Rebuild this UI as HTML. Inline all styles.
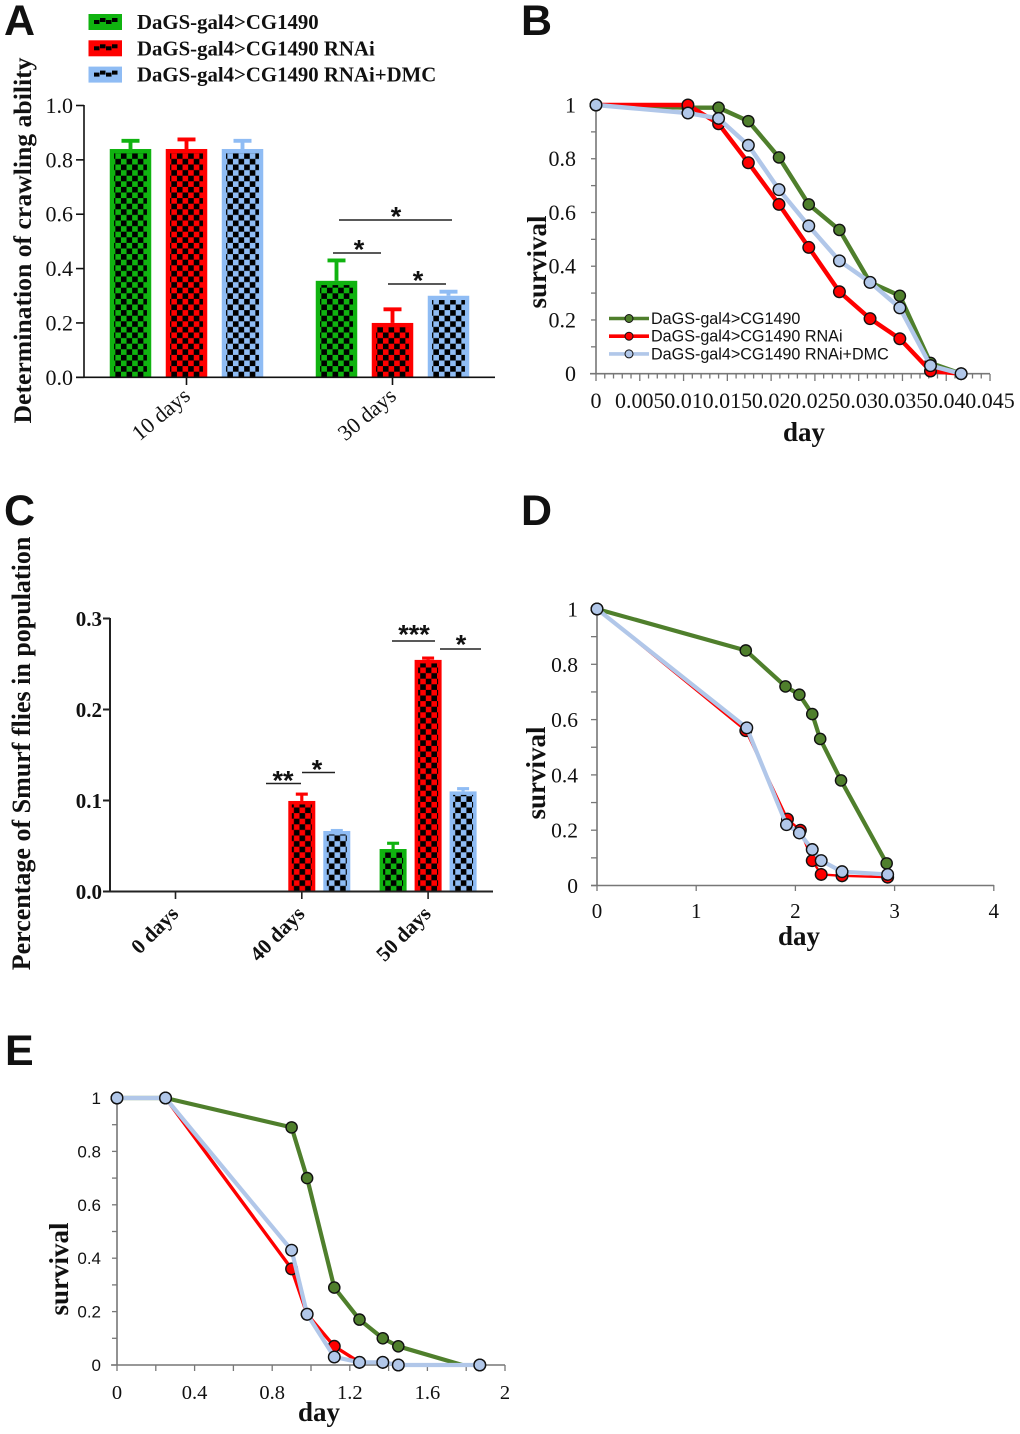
<!DOCTYPE html>
<html>
<head>
<meta charset="utf-8">
<title>Crawling ability, Smurf and survival charts</title>
<style>
html,body{margin:0;padding:0;background:#fff;width:1020px;height:1434px;overflow:hidden}
svg{display:block}
text{font-family:"Liberation Serif",serif;fill:#111}
.sans{font-family:"Liberation Sans",sans-serif}
</style>
</head>
<body>
<svg id="figure" xmlns="http://www.w3.org/2000/svg" width="1020" height="1434" viewBox="0 0 1020 1434">
<defs>
<pattern id="chk-green" width="11.2" height="11.2" patternUnits="userSpaceOnUse"><rect width="11.2" height="11.2" fill="#10b310"/><rect width="5.6" height="5.6" fill="#000"/><rect x="5.6" y="5.6" width="5.6" height="5.6" fill="#000"/></pattern>
<pattern id="chk-red" width="11.2" height="11.2" patternUnits="userSpaceOnUse"><rect width="11.2" height="11.2" fill="#fe0000"/><rect width="5.6" height="5.6" fill="#000"/><rect x="5.6" y="5.6" width="5.6" height="5.6" fill="#000"/></pattern>
<pattern id="chk-blue" width="11.2" height="11.2" patternUnits="userSpaceOnUse"><rect width="11.2" height="11.2" fill="#8fbcf4"/><rect width="5.6" height="5.6" fill="#000"/><rect x="5.6" y="5.6" width="5.6" height="5.6" fill="#000"/></pattern>
</defs>
</svg>
<script>
// ---------- Panel A data ----------
const aCategories = ['10 days', '30 days'];
const aControl = [0.84, 0.355];
const aRnai = [0.84, 0.2];
const aDmc = [0.84, 0.3];
const aControlErr = [0.87, 0.43];
const aRnaiErr = [0.875, 0.25];
const aDmcErr = [0.87, 0.315];
const aTicks = ['0.0', '0.2', '0.4', '0.6', '0.8', '1.0'];
// ---------- Panel B data ----------
const bDays = [0, 0.0105, 0.014, 0.0174, 0.0209, 0.0243, 0.0278, 0.0313, 0.0347, 0.0382, 0.0417];
const bControl = [1, 0.99, 0.99, 0.94, 0.805, 0.63, 0.535, 0.34, 0.29, 0.04, 0];
const bRnai = [1, 1, 0.93, 0.785, 0.63, 0.47, 0.305, 0.205, 0.13, 0.01, 0];
const bDmc = [1, 0.97, 0.95, 0.85, 0.685, 0.55, 0.42, 0.34, 0.245, 0.03, 0];
const bXTicks = ['0', '0.005', '0.01', '0.015', '0.02', '0.025', '0.03', '0.035', '0.04', '0.045'];
const bYTicks = ['0', '0.2', '0.4', '0.6', '0.8', '1'];
// ---------- Panel C data ----------
const cCategories = ['0 days', '40 days', '50 days'];
const cControl = [0, 0, 0.0467];
const cRnai = [0, 0.0995, 0.2545];
const cDmc = [0, 0.0665, 0.11];
const cControlErr = [0, 0, 0.053];
const cRnaiErr = [0, 0.107, 0.2565];
const cDmcErr = [0, 0.067, 0.113];
const cTicks = ['0.0', '0.1', '0.2', '0.3'];
// ---------- Panel D data ----------
const dControlDays = [0, 1.5, 1.9, 2.04, 2.17, 2.25, 2.46, 2.92];
const dControl = [1, 0.85, 0.72, 0.69, 0.62, 0.53, 0.38, 0.08];
const dRnaiDays = [0, 1.5, 1.92, 2.05, 2.17, 2.26, 2.47, 2.93];
const dRnai = [1, 0.56, 0.24, 0.2, 0.09, 0.04, 0.035, 0.03];
const dDmcDays = [0, 1.51, 1.91, 2.04, 2.17, 2.26, 2.47, 2.93];
const dDmc = [1, 0.57, 0.22, 0.19, 0.13, 0.09, 0.05, 0.04];
const dXTicks = ['0', '1', '2', '3', '4'];
const dYTicks = ['0', '0.2', '0.4', '0.6', '0.8', '1'];
// ---------- Panel E data ----------
const eDays = [0, 0.25, 0.9, 0.98, 1.12, 1.25, 1.37, 1.45, 1.87];
const eControlDays = [0, 0.25, 0.9, 0.98, 1.12, 1.25, 1.37, 1.45];
const eControl = [1, 1, 0.89, 0.7, 0.29, 0.17, 0.1, 0.07];
const eControlEndDay = [1.78];
const eControlEnd = [0];
const eRnai = [1, 1, 0.36, 0.19, 0.07, 0.01, 0.01, 0, 0];
const eDmc = [1, 1, 0.43, 0.19, 0.03, 0.01, 0.01, 0, 0];
const eXTicks = ['0', '0.4', '0.8', '1.2', '1.6', '2'];
const eYTicks = ['0', '0.2', '0.4', '0.6', '0.8', '1'];
const seriesNames = ['DaGS-gal4>CG1490', 'DaGS-gal4>CG1490 RNAi', 'DaGS-gal4>CG1490 RNAi+DMC'];

// ---------- helpers ----------
const NS = 'http://www.w3.org/2000/svg';
const fig = document.getElementById('figure');
function mk(tag, attrs, parent, txt) {
  const n = document.createElementNS(NS, tag);
  for (const k in attrs) n.setAttribute(k, attrs[k]);
  if (txt !== undefined) n.textContent = txt;
  (parent || fig).appendChild(n);
  return n;
}
function panelGroup(name) {
  const g = mk('g', {}, fig);
  
  
  return g;
}
function seg(p, x1, y1, x2, y2, color, w) {
  const e = mk('line', {x1: x1, y1: y1, x2: x2, y2: y2, stroke: color, 'stroke-width': w}, p);
  
  
  return e;
}
function label(p, x, y, str, size, opts) {
  const o = opts || {};
  const at = {x: x, y: y, 'font-size': size, 'text-anchor': o.anchor || 'middle', 'font-weight': o.bold ? 'bold' : 'normal'};
  if (o.rot !== undefined) at.transform = 'rotate(' + o.rot + ' ' + x + ' ' + y + ')';
  if (o.sans) at['class'] = 'sans';
  const e = mk('text', at, p, str);
  
  
  return e;
}
function star(p, cx, cy, str) {
  const e = mk('text', {x: cx, y: cy + 13.5, 'font-size': 27, 'font-weight': 'bold', 'text-anchor': 'middle', 'class': 'sans'}, p, str);
  
  
}
function sig(p, x1, x2, y, str, sx, sy) {
  const e = seg(p, x1, y, x2, y, '#222', 1.6);
  
  star(p, sx, sy, str);
}
function bar(p, x, w, yTop, y0, yErr, col, inset, capW, name) {
  const g = mk('g', {transform: 'translate(' + x + ',' + y0 + ')'}, p);
  
  
  const h = y0 - yTop;
  const stem = inset * 0.9;
  const hexes = {green: '#10b310', red: '#fe0000', blue: '#8fbcf4'};
  mk('line', {x1: w / 2, x2: w / 2, y1: -h, y2: yErr - y0, stroke: hexes[col], 'stroke-width': stem}, g);
  mk('line', {x1: w / 2 - capW / 2, x2: w / 2 + capW / 2, y1: yErr - y0, y2: yErr - y0, stroke: hexes[col], 'stroke-width': stem}, g);
  mk('rect', {x: 0, y: -h, width: w, height: h, fill: hexes[col]}, g);
  mk('rect', {x: inset, y: -h + inset, width: w - 2 * inset, height: h - inset, fill: 'url(#chk-' + col + ')'}, g);
}
function series(p, xs, ys, sx, sy, lineColor, fill, w, r, name, extraX, extraY) {
  const g = mk('g', {}, p);
  
  
  let pts = xs.map((v, i) => sx(v) + ',' + sy(ys[i]));
  if (extraX) pts = pts.concat(extraX.map((v, i) => sx(v) + ',' + sy(extraY[i])));
  mk('polyline', {points: pts.join(' '), fill: 'none', stroke: lineColor, 'stroke-width': w, 'stroke-linejoin': 'round'}, g);
  xs.forEach((v, i) => {
    const c = mk('circle', {cx: sx(v), cy: sy(ys[i]), r: r, fill: fill, stroke: '#111', 'stroke-width': 1.4}, g);
    
    
  });
}
const GREEN_L = '#4f7f2c', RED_L = '#fe0000', BLUE_L = '#b1c7e9';
const GREEN_F = '#4f7f2c', BLUE_F = '#b1c7e9';

// ---------- Panel letters ----------
[['A', 4, 35], ['B', 521, 35], ['C', 4, 525], ['D', 521, 525], ['E', 5, 1065]].forEach(function (t) {
  const e = mk('text', {x: t[1], y: t[2], 'font-size': 43, 'font-weight': 'bold', 'class': 'sans'}, fig, t[0]);
  
  
});

// ---------- Panel A ----------
(function () {
  const p = panelGroup('panel-a-crawling-chart');
  const y = v => 377.3 - v * 271.8;
  const groupX = i => 186.5 + i * 206;
  const barX = (g, s) => groupX(g) + (s - 1) * 56 - 20.75;
  const colors = ['green', 'red', 'blue'];
  const vals = [aControl, aRnai, aDmc];
  const errs = [aControlErr, aRnaiErr, aDmcErr];
  // legend
  const hexes = ['#10b310', '#fe0000', '#8fbcf4'];
  seriesNames.forEach((nm, i) => {
    const ly = 14 + i * 26.3;
    const r = mk('rect', {x: 88.5, y: ly, width: 33.5, height: 16, fill: hexes[i]}, p);
    
    
    for (let k = 0; k < 4; k++) {
      mk('rect', {x: 94 + k * 6, y: ly + 6 + (k % 2 ? -2 : 0), width: 5.5, height: 4, fill: '#000'}, p);
    }
    label(p, 137, ly + 15, nm, 20.8, {anchor: 'start', bold: true, name: 'legend-label'});
  });
  vals.forEach((arr, s) => arr.forEach((v, g) => {
    bar(p, barX(g, s), 41.5, y(v), 377.3, y(errs[s][g]), colors[s], 4.3, 18, 'bar');
  }));
  seg(p, 84, 105, 84, 378, '#111', 1.6);
  seg(p, 76, 377.3, 495, 377.3, '#111', 1.6);
  aTicks.forEach(t => {
    seg(p, 76, y(+t), 84, y(+t), '#111', 1.6);
    label(p, 73, y(+t) + 7.5, t, 22, {anchor: 'end', name: 'y-tick-label'});
  });
  aCategories.forEach((c, i) => {
    seg(p, groupX(i), 377, groupX(i), 385, '#111', 1.6);
    label(p, groupX(i) + 5, 398, c, 22, {anchor: 'end', rot: -40, name: 'x-tick-label'});
  });
  label(p, 31, 240.5, 'Determination of crawling ability', 25.7, {bold: true, rot: -90, name: 'y-axis-title'});
  sig(p, 339, 452, 220, '*', 396, 212);
  sig(p, 333, 381, 253, '*', 359, 245);
  sig(p, 388, 446, 284, '*', 418, 276);
})();

// ---------- Panel B ----------
(function () {
  const p = panelGroup('panel-b-survival-chart');
  const x = v => 596 + v * 8756;
  const y = v => 373.7 - v * 268.7;
  const gray = '#777';
  seg(p, 596, 105, 596, 374, gray, 1.6);
  seg(p, 590, 373.7, 990, 373.7, gray, 1.6);
  for (let k = 0; k <= 45; k++) {
    seg(p, x(k / 1000), 374, x(k / 1000), k % 5 === 0 ? 381 : 378.5, gray, 1.3);
  }
  for (let k = 0; k <= 10; k++) {
    seg(p, 591, y(k / 10), 596, y(k / 10), gray, 1.3);
  }
  bYTicks.forEach(t => label(p, 576, y(+t) + 7.5, t, 22, {anchor: 'end', name: 'y-tick-label'}));
  bXTicks.forEach(t => label(p, x(+t), 408, t, 22, {name: 'x-tick-label'}));
  series(p, bDays, bControl, x, y, GREEN_L, GREEN_F, 4.4, 5.6, 'series-control');
  series(p, bDays, bRnai, x, y, RED_L, RED_L, 4.4, 5.8, 'series-rnai');
  series(p, bDays, bDmc, x, y, BLUE_L, BLUE_F, 4.4, 5.8, 'series-rnai-dmc');
  const legC = [GREEN_L, RED_L, BLUE_L];
  seriesNames.forEach((nm, i) => {
    const ly = 318.5 + i * 17.7;
    const l = mk('line', {x1: 609, x2: 649, y1: ly, y2: ly, stroke: legC[i], 'stroke-width': 3.6}, p);
    
    
    const c = mk('circle', {cx: 629, cy: ly, r: 4, fill: legC[i], stroke: '#111', 'stroke-width': 1}, p);
    
    
    label(p, 651, ly + 5.5, nm, 16.15, {anchor: 'start', sans: true, name: 'legend-label'});
  });
  label(p, 804, 441, 'day', 27, {bold: true, name: 'x-axis-title'});
  label(p, 546, 262, 'survival', 27, {bold: true, rot: -90, name: 'y-axis-title'});
})();

// ---------- Panel C ----------
(function () {
  const p = panelGroup('panel-c-smurf-chart');
  const y = v => 891.5 - v * 910;
  const groupX = i => 175.5 + i * 126.3;
  const barX = (g, s) => groupX(g) + (s - 1) * 35 - 13.5;
  const colors = ['green', 'red', 'blue'];
  const vals = [cControl, cRnai, cDmc];
  const errs = [cControlErr, cRnaiErr, cDmcErr];
  vals.forEach((arr, s) => arr.forEach((v, g) => {
    if (v > 0) bar(p, barX(g, s), 27, y(v), 891.5, y(errs[s][g]), colors[s], 3.5, 12, 'bar');
  }));
  seg(p, 110, 618, 110, 892, '#222', 2);
  seg(p, 103, 891.5, 493, 891.5, '#222', 2);
  cTicks.forEach(t => {
    seg(p, 103, y(+t), 110, y(+t), '#222', 2);
    label(p, 102, y(+t) + 7.5, t, 21, {anchor: 'end', bold: true, name: 'y-tick-label'});
  });
  cCategories.forEach((c, i) => {
    seg(p, groupX(i), 891, groupX(i), 899, '#222', 1.6);
    label(p, groupX(i) + 4, 915, c, 21, {anchor: 'end', bold: true, rot: -45, name: 'x-tick-label'});
  });
  label(p, 30, 753.5, 'Percentage of Smurf flies in population', 26, {bold: true, rot: -90, name: 'y-axis-title'});
  sig(p, 266, 301, 783.5, '**', 283, 776);
  sig(p, 302, 335, 772.5, '*', 317, 765);
  sig(p, 392, 435, 641, '***', 414, 630);
  sig(p, 440, 481, 649, '*', 461, 640);
})();

// ---------- Panel D ----------
(function () {
  const p = panelGroup('panel-d-survival-chart');
  const x = v => 597 + v * 99.2;
  const y = v => 885.5 - v * 276.5;
  const gray = '#777';
  seg(p, 597, 609, 597, 886, gray, 1.6);
  seg(p, 591, 885.5, 994, 885.5, gray, 1.6);
  dXTicks.forEach(t => {
    seg(p, x(+t), 885, x(+t), 891, gray, 1.3);
    label(p, x(+t), 918, t, 21, {name: 'x-tick-label'});
  });
  for (let k = 0; k <= 10; k++) {
    seg(p, 591, y(k / 10), 597, y(k / 10), gray, 1.3);
  }
  dYTicks.forEach(t => label(p, 578, y(+t) + 7.5, t, 21.5, {anchor: 'end', name: 'y-tick-label'}));
  series(p, dControlDays, dControl, x, y, GREEN_L, GREEN_F, 4.2, 5.6, 'series-control');
  series(p, dRnaiDays, dRnai, x, y, RED_L, RED_L, 2.4, 5.8, 'series-rnai');
  series(p, dDmcDays, dDmc, x, y, BLUE_L, BLUE_F, 4.2, 5.8, 'series-rnai-dmc');
  label(p, 799, 945, 'day', 27, {bold: true, name: 'x-axis-title'});
  label(p, 545, 773, 'survival', 27, {bold: true, rot: -90, name: 'y-axis-title'});
})();

// ---------- Panel E ----------
(function () {
  const p = panelGroup('panel-e-survival-chart');
  const x = v => 117 + v * 194;
  const y = v => 1365 - v * 267;
  const gray = '#777';
  seg(p, 117, 1098, 117, 1365, gray, 1.6);
  seg(p, 111, 1365, 505, 1365, gray, 1.6);
  for (let k = 0; k <= 10; k++) {
    seg(p, x(k / 5), 1365, x(k / 5), 1371, gray, 1.3);
    seg(p, 112, y(k / 10), 117, y(k / 10), gray, 1.3);
  }
  eXTicks.forEach(t => label(p, x(+t), 1399, t, 20.5, {name: 'x-tick-label'}));
  eYTicks.forEach(t => label(p, 101, y(+t) + 6, t, 17, {anchor: 'end', sans: true, name: 'y-tick-label'}));
  series(p, eControlDays, eControl, x, y, GREEN_L, GREEN_F, 4.2, 5.6, 'series-control', eControlEndDay, eControlEnd);
  series(p, eDays, eRnai, x, y, RED_L, RED_L, 3.4, 5.8, 'series-rnai');
  series(p, eDays, eDmc, x, y, BLUE_L, BLUE_F, 4.2, 5.8, 'series-rnai-dmc');
  label(p, 319, 1421, 'day', 27, {bold: true, name: 'x-axis-title'});
  label(p, 68, 1269, 'survival', 27, {bold: true, rot: -90, name: 'y-axis-title'});
})();
</script>
</body>
</html>
